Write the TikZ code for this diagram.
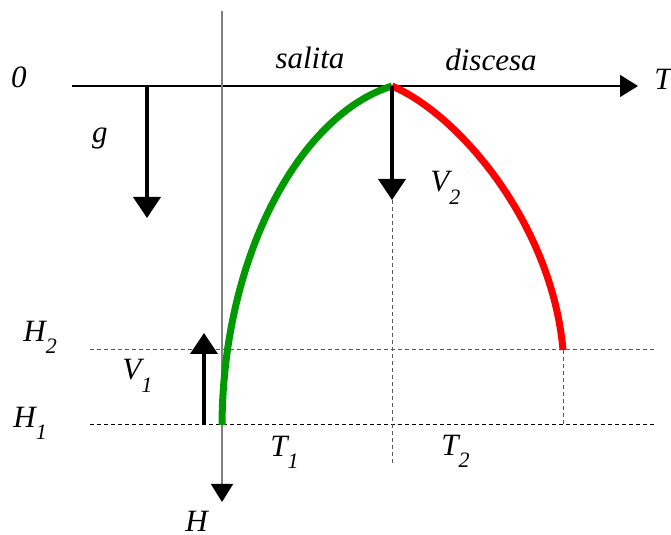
\documentclass[tikz,border=0pt]{standalone}
\usepackage{fontspec}
\setmainfont{Liberation Serif}
\usetikzlibrary{arrows.meta,positioning}
\newcommand{\idx}[2]{#1\raisebox{-6pt}{\fontsize{11}{11}\selectfont #2}}

\begin{document}
\begin{tikzpicture}[x=0.5pt,y=-0.5pt,font=\fontsize{15.5}{18}\selectfont\itshape,
  lbl/.style={inner sep=0pt},
  axis/.style={line width=0.75pt,-{Triangle[length=9pt,width=11pt,color=black]}},
  vec/.style={line width=2pt,-{Triangle[length=10.5pt,width=13.5pt]}},
  guide/.style={line width=0.5pt,dash pattern=on 2pt off 1.5pt},
  trajline/.style={line width=3.5pt}]
\useasboundingbox (0,0) rectangle (671,535);
% points of the motion
\coordinate (start) at (222,425);
\coordinate (top) at (392,86);
\coordinate (fin) at (563,350);
\coordinate (t0) at (72,86);
\coordinate (t1) at (638,86);
\coordinate (h0) at (222,11);
\coordinate (h1) at (222,502);
\coordinate (hhA) at (90,350);
\coordinate (hhB) at (657,350);
\coordinate (hlA) at (90,425);
\coordinate (hlB) at (657,425);
\coordinate (v2tip) at (392,200);
\coordinate (v2end) at (392,465);
\coordinate (finfoot) at (563,425);
\coordinate (g0) at (147,86);
\coordinate (g1) at (147,218);
\coordinate (v1foot) at (204,425);
\coordinate (v1tip) at (204,333);
% labels
\node[lbl] (zero) at (19,77) {0};
\node[lbl] (salita) at (310,58) {salita};
\node[lbl] (discesa) at (491,60) {discesa};
\node[lbl,anchor=base west] (tlab) at (654,90) {T};
\node[lbl] (glab) at (100,139) {g};
\node[lbl,anchor=base west] (vtwo) at (430,192) {\idx{V}{2}};
\node[lbl,anchor=base west] (htwo) at (23,342) {\idx{H}{2}};
\node[lbl,anchor=base west] (vone) at (122,380) {\idx{V}{1}};
\node[lbl,anchor=base west] (hone) at (13,428) {\idx{H}{1}};
\node[lbl,anchor=base west] (tone) at (270,457) {\idx{T}{1}};
\node[lbl,anchor=base west] (ttwo) at (441,456) {\idx{T}{2}};
\node[lbl,anchor=base west] (hlab) at (185,531) {H};
% guide lines
\draw[guide,gray!70!black] (hhA) -- (hhB);
\draw[guide] (hlA) -- (hlB);
\draw[guide,gray!70!black] (v2tip) -- (v2end);
\draw[guide,gray!70!black] (fin) -- (finfoot);
% axes
\draw[axis] (t0) -- (t1);
\draw[axis,gray] (h0) -- (h1);
% trajectory
\draw[trajline,green!60!black] (start) .. controls (223,255) and (300,115) .. (top);
\draw[trajline,red] (top) .. controls (460,115) and (552,225) .. (fin);
% vectors
\draw[vec] (g0) -- (g1);
\draw[vec] (top) -- (v2tip);
\draw[vec] (v1foot) -- (v1tip);
\end{tikzpicture}
\end{document}
